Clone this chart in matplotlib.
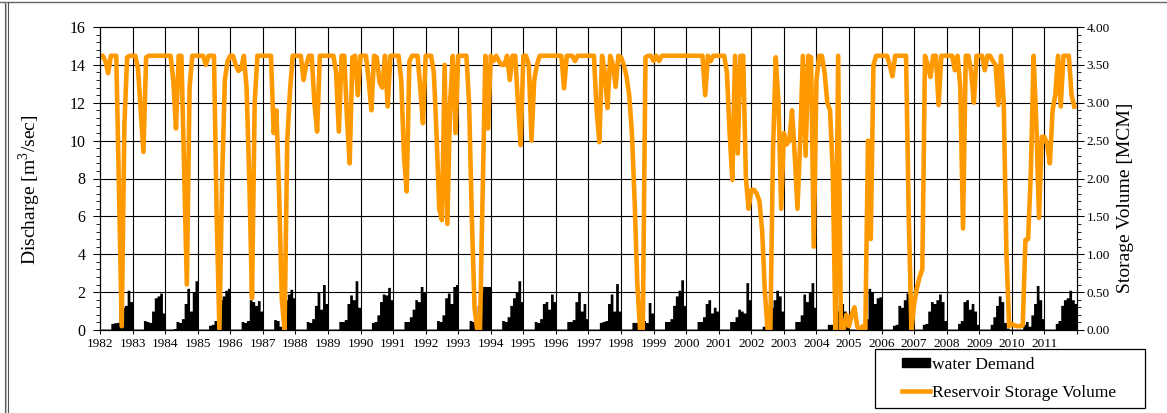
import numpy as np
import matplotlib
matplotlib.use("Agg")
import matplotlib.pyplot as plt
from matplotlib.ticker import MultipleLocator, FormatStrFormatter
from matplotlib.lines import Line2D
from matplotlib.patches import Patch, Rectangle

plt.rcParams['font.family'] = 'Liberation Serif'
plt.rcParams['mathtext.fontset'] = 'custom'
plt.rcParams['mathtext.rm'] = 'Liberation Serif'

# ---- data -------------------------------------------------------------
years = list(range(1982, 2012))
year_labels = [str(y) for y in years]

# monthly water demand [m3/s], one row per year (Jan..Dec)
demand = [
    .05, .05, .05, .05, .35, .38, .40, 1.5, 1.2, 1.3, 2.1, 1.5,    # 1982
    .05, .05, .05, .05, .50, .45, .40, 1.0, 1.7, 1.8, 1.95, 0.9,   # 1983
    .05, .05, .05, .08, .45, .40, .60, 1.4, 2.2, 1.0, 2.0, 2.6,    # 1984
    .05, .05, .05, .05, .25, .30, .50, 1.3, 1.6, 1.8, 2.1, 2.2,    # 1985
    .05, .05, .05, .05, .45, .40, .50, 1.6, 1.5, 1.3, 1.55, 1.0,   # 1986
    .05, .05, .05, .05, .55, .50, .20, 1.3, 1.6, 1.9, 2.15, 1.7,   # 1987
    .05, .05, .05, .05, .45, .40, .60, 1.3, 2.0, 1.1, 2.4, 1.4,    # 1988
    .05, .05, .05, .05, .45, .45, .55, 1.4, 1.85, 1.6, 2.6, 1.2,   # 1989
    .05, .05, .05, .05, .40, .45, .80, 1.5, 1.9, 1.85, 2.25, 1.6,  # 1990
    .05, .05, .05, .05, .45, .45, .70, 1.1, 1.6, 1.5, 2.3, 2.0,    # 1991
    .05, .05, .05, .05, .50, .45, .80, 1.7, 1.95, 1.4, 2.3, 2.4,   # 1992
    .05, .05, .05, .05, .50, .45, .60, 1.3, 2.0, 2.3, 2.3, 2.3,    # 1993
    .05, .05, .05, .05, .50, .45, .70, 1.3, 1.7, 2.0, 2.6, 1.5,    # 1994
    .05, .05, .05, .05, .45, .40, .60, 1.4, 1.5, 1.1, 1.9, 1.5,    # 1995
    .05, .05, .05, .05, .45, .45, .55, 1.5, 2.0, 1.0, 1.4, 0.6,    # 1996
    .05, .05, .05, .05, .40, .45, .50, 1.4, 1.9, 1.0, 2.45, 1.0,   # 1997
    .05, .05, .05, .05, .40, .40, .40, 0.6, 0.5, 0.4, 1.45, 0.9,   # 1998
    .05, .05, .05, .05, .45, .45, .60, 1.3, 1.8, 2.1, 2.65, 1.3,   # 1999
    .05, .05, .05, .05, .45, .45, .70, 1.4, 1.6, 0.9, 1.2, 1.0,    # 2000
    .05, .05, .05, .05, .45, .45, .70, 1.1, 1.0, 0.9, 2.5, 1.6,    # 2001
    .05, .05, .05, .05, .20, .30, .50, 1.2, 1.6, 2.1, 1.8, 1.0,    # 2002
    .05, .05, .05, .05, .45, .45, .80, 1.9, 1.5, 2.0, 2.5, 1.2,    # 2003
    .05, .05, .05, .05, .30, .30, .50, 1.0, 1.3, 1.4, 1.0, 0.3,    # 2004
    .05, .05, .05, .05, .20, .25, .60, 2.2, 2.0, 1.4, 1.7, 1.75,   # 2005
    .05, .05, .05, .05, .25, .30, 1.3, 1.2, 1.6, 1.95, 1.5, 0.8,   # 2006
    .05, .05, .05, .30, .35, 1.0, 1.5, 1.4, 1.6, 1.9, 1.5, 0.5,    # 2007
    .05, .05, .05, .05, .35, .50, 1.5, 1.6, 1.1, 1.4, 1.0, 0.3,    # 2008
    .05, .05, .05, .05, .30, .70, 1.3, 1.8, 1.5, 0.4, 0.1, .05,    # 2009
    .05, .05, .05, .05, .30, .45, .20, 0.8, 1.4, 2.35, 1.6, 0.6,   # 2010
    .05, .05, .05, .05, .35, .50, 1.3, 1.6, 1.7, 2.1, 1.6, 1.4,    # 2011
]

# monthly reservoir storage volume [MCM], one row per year (Jan..Dec)
storage = [
    3.62, 3.62, 3.55, 3.39, 3.62, 3.62, 3.62, 1.83, 0.05, 2.72, 3.60, 3.62,  # 1982
    3.62, 3.62, 3.45, 2.90, 2.35, 3.60, 3.62, 3.62, 3.62, 3.62, 3.62, 3.62,  # 1983
    3.62, 3.62, 3.62, 3.30, 2.66, 3.62, 3.62, 2.10, 0.60, 3.20, 3.62, 3.62,  # 1984
    3.62, 3.62, 3.62, 3.50, 3.62, 3.62, 3.62, 1.50, 0.00, 2.00, 3.30, 3.55,  # 1985
    3.62, 3.62, 3.50, 3.42, 3.45, 3.62, 3.20, 2.00, 0.42, 3.00, 3.62, 3.62,  # 1986
    3.62, 3.62, 3.62, 3.62, 2.60, 2.90, 1.80, 0.40, 0.00, 2.50, 3.15, 3.62,  # 1987
    3.62, 3.62, 3.62, 3.30, 3.50, 3.62, 3.62, 3.00, 2.62, 3.62, 3.62, 3.62,  # 1988
    3.62, 3.62, 3.62, 3.40, 2.62, 3.62, 3.62, 2.80, 2.20, 3.60, 3.62, 3.10,  # 1989
    3.62, 3.62, 3.62, 3.30, 2.90, 3.62, 3.60, 3.27, 3.20, 3.62, 2.95, 3.62,  # 1990
    3.62, 3.62, 3.62, 3.30, 2.30, 1.83, 3.55, 3.62, 3.62, 3.62, 3.20, 2.73,  # 1991
    3.62, 3.62, 3.62, 3.40, 2.60, 1.60, 1.45, 3.50, 1.40, 3.00, 3.62, 2.60,  # 1992
    3.62, 3.62, 3.62, 3.62, 3.00, 1.50, 0.30, 0.00, 0.00, 1.80, 3.62, 2.66,  # 1993
    3.62, 3.55, 3.62, 3.55, 3.50, 3.50, 3.62, 3.30, 3.62, 3.62, 3.00, 2.44,  # 1994
    3.62, 3.62, 3.50, 2.50, 3.30, 3.50, 3.62, 3.62, 3.62, 3.62, 3.62, 3.62,  # 1995
    3.62, 3.62, 3.62, 3.19, 3.62, 3.62, 3.62, 3.55, 3.62, 3.62, 3.62, 3.62,  # 1996
    3.62, 3.62, 3.62, 2.90, 2.48, 3.62, 3.40, 2.93, 3.62, 3.50, 3.21, 3.62,  # 1997
    3.60, 3.50, 3.35, 3.10, 2.60, 1.70, 0.60, 0.00, 0.00, 3.60, 3.62, 3.62,  # 1998
    3.55, 3.62, 3.55, 3.62, 3.62, 3.62, 3.62, 3.62, 3.62, 3.62, 3.62, 3.62,  # 1999
    3.62, 3.62, 3.62, 3.62, 3.62, 3.62, 3.62, 3.10, 3.62, 3.55, 3.62, 3.62,  # 2000
    3.62, 3.62, 3.62, 3.40, 2.60, 1.98, 3.62, 2.33, 3.62, 3.62, 2.00, 1.60,  # 2001
    1.85, 1.85, 1.80, 1.70, 1.30, 0.50, 0.00, 0.00, 2.38, 3.60, 3.00, 1.60,  # 2002
    2.60, 2.45, 2.50, 2.90, 2.30, 1.60, 2.50, 3.62, 2.30, 3.62, 3.60, 1.10,  # 2003
    3.30, 3.62, 3.62, 3.40, 3.00, 2.90, 2.10, 0.00, 3.62, 0.00, 0.00, 0.20,  # 2004
    0.05, 0.20, 0.30, 0.05, 0.00, 0.05, 0.00, 2.50, 1.20, 3.50, 3.62, 3.62,  # 2005
    3.62, 3.62, 3.62, 3.50, 3.35, 3.62, 3.62, 3.62, 3.62, 3.62, 1.50, 0.00,  # 2006
    0.35, 0.55, 0.70, 0.80, 3.62, 3.50, 3.34, 3.62, 3.62, 2.97, 3.62, 3.62,  # 2007
    3.62, 3.62, 3.62, 3.43, 3.62, 3.20, 1.34, 3.62, 3.62, 3.40, 3.00, 3.62,  # 2008
    3.62, 3.62, 3.43, 3.62, 3.62, 3.55, 3.50, 2.97, 3.62, 3.00, 1.00, 0.05,  # 2009
    0.08, 0.06, 0.05, 0.05, 0.06, 1.19, 1.20, 2.10, 3.62, 2.73, 1.48, 2.55,  # 2010
    2.55, 2.45, 2.20, 2.90, 3.10, 3.62, 2.95, 3.62, 3.62, 3.62, 3.10, 2.95,  # 2011
]

ORANGE = '#FF9900'

# ---- figure -----------------------------------------------------------
W, H = 1167, 413
fig = plt.figure(figsize=(W / 100, H / 100), dpi=100)
ax = fig.add_axes([100 / W, 1 - 330 / H, 977 / W, 303 / H])

t = years[0] + np.arange(len(demand)) / 12.0
t_edges = np.append(t, t[-1] + 1 / 12.0)
d_edges = np.append(demand, demand[-1])

ax.set_xlim(1982, 2012)
ax.set_ylim(0, 16)
ax.yaxis.set_major_locator(MultipleLocator(2))
ax.yaxis.set_minor_locator(MultipleLocator(0.4))
ax.set_xticks(years + [2012])
ax.set_xticklabels(year_labels + [''])

ax.tick_params(axis='y', which='major', direction='out', length=5, width=0.75,
               labelsize=11.5, pad=5.5)
ax.tick_params(axis='y', which='minor', direction='out', length=3, width=0.6)
ax.tick_params(axis='x', which='major', direction='out', length=3, width=0.75,
               labelsize=9.5, pad=3)

# year / discharge grid drawn as plain reference lines under the data
for yr in years[1:]:
    ax.axvline(yr, color='black', linewidth=0.8, zorder=0.5)
for q in np.arange(2, 16, 2):
    ax.axhline(q, color='black', linewidth=0.8, zorder=0.5)

# demand as a stepped black area
ax.fill_between(t_edges, d_edges, step='post', color='black', linewidth=0,
                zorder=1)

for s in ax.spines.values():
    s.set_linewidth(0.8)
    s.set_color('black')

# storage volume on the secondary axis
ax2 = ax.twinx()
ax2.plot(t, storage, color=ORANGE, linewidth=3.3, solid_joinstyle='round')
ax2.set_ylim(0, 4)
ax2.yaxis.set_major_locator(MultipleLocator(0.5))
ax2.yaxis.set_minor_locator(MultipleLocator(0.1))
ax2.yaxis.set_major_formatter(FormatStrFormatter('%.2f'))
ax2.tick_params(axis='y', which='major', direction='out', length=5, width=0.75,
                labelsize=9.5, pad=2)
ax2.tick_params(axis='y', which='minor', direction='out', length=3, width=0.6)
for s in ax2.spines.values():
    s.set_linewidth(0.8)

# axis titles
fig.text(30 / W, 1 - 189.5 / H, r'Discharge [m$^{\mathrm{3}}$/sec]', rotation=90,
         ha='center', va='center', fontsize=14)
fig.text(1125 / W, 1 - 197.5 / H, 'Storage Volume [MCM]', rotation=90,
         ha='center', va='center', fontsize=14)

# legend
handles = [Patch(facecolor='black', edgecolor='black', label='water Demand'),
           Line2D([], [], color=ORANGE, linewidth=3.3, label='Reservoir Storage Volume')]
fig.legend(handles=handles, loc='upper left', bbox_to_anchor=(902 / W, 1 - 357 / H),
           bbox_transform=fig.transFigure, frameon=False, borderpad=0,
           borderaxespad=0, handlelength=1.6, handleheight=0.45,
           handletextpad=0.12, labelspacing=0.68, fontsize=12.6)
fig.add_artist(Rectangle((875 / W, 1 - 408 / H), 270 / W, 59 / H,
                         transform=fig.transFigure, fill=False,
                         edgecolor='black', linewidth=0.9))

# page frame
fig.add_artist(Line2D([0, 1], [1 - 1.5 / H] * 2, color='#666666', linewidth=1.0))
fig.add_artist(Line2D([4.5 / W] * 2, [0, 1 - 1.5 / H], color='#555555', linewidth=0.8))
fig.add_artist(Line2D([6.0 / W] * 2, [0, 1 - 1.5 / H], color='#bbbbbb', linewidth=0.8))
fig.add_artist(Line2D([7.5 / W] * 2, [0, 1 - 1.5 / H], color='#555555', linewidth=0.8))

fig.savefig('out.png', dpi=100)
